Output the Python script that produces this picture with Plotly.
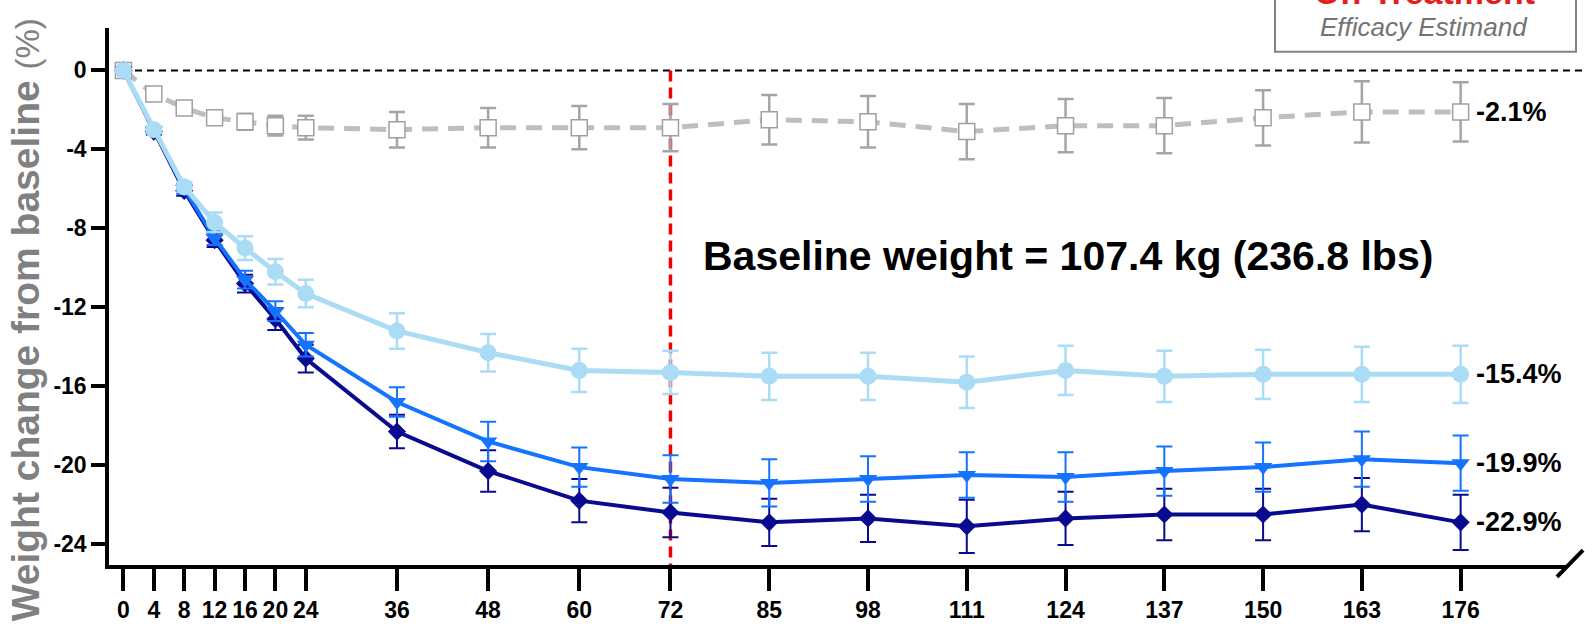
import plotly.graph_objects as go

weeks = [0, 4, 8, 12, 16, 20, 24, 36, 48, 60, 72, 85, 98, 111, 124, 137, 150, 163, 176]
tick_labels = [str(w) for w in weeks]

placebo = [0, -1.2, -1.9, -2.4, -2.6, -2.8, -2.9, -3.0, -2.9, -2.9, -2.9, -2.5, -2.6, -3.1, -2.8, -2.8, -2.4, -2.1, -2.1]
placebo_err = [0, 0.1, 0.15, 0.3, 0.4, 0.5, 0.6, 0.9, 1.0, 1.1, 1.2, 1.25, 1.3, 1.4, 1.35, 1.4, 1.4, 1.55, 1.5]

light = [0, -3.0, -5.9, -7.7, -9.0, -10.2, -11.3, -13.2, -14.3, -15.2, -15.3, -15.5, -15.5, -15.8, -15.2, -15.5, -15.4, -15.4, -15.4]
light_err = [0, 0.15, 0.25, 0.5, 0.6, 0.65, 0.7, 0.9, 0.95, 1.1, 1.1, 1.2, 1.2, 1.3, 1.25, 1.3, 1.25, 1.4, 1.45]

mid = [0, -3.05, -6.0, -8.5, -10.6, -12.2, -13.9, -16.8, -18.8, -20.1, -20.7, -20.9, -20.7, -20.5, -20.6, -20.3, -20.1, -19.7, -19.9]
mid_err = [0, 0.15, 0.25, 0.35, 0.45, 0.5, 0.6, 0.75, 1.0, 1.0, 1.2, 1.2, 1.15, 1.15, 1.25, 1.25, 1.25, 1.4, 1.4]

navy = [0, -3.1, -6.1, -8.6, -10.8, -12.6, -14.6, -18.3, -20.3, -21.8, -22.4, -22.9, -22.7, -23.1, -22.7, -22.5, -22.5, -22.0, -22.9]
navy_err = [0, 0.15, 0.25, 0.35, 0.45, 0.55, 0.7, 0.85, 1.05, 1.1, 1.25, 1.2, 1.2, 1.35, 1.35, 1.3, 1.3, 1.35, 1.4]

end_labels = ["-2.1%", "-15.4%", "-19.9%", "-22.9%"]
end_values = [placebo[-1], light[-1], mid[-1], navy[-1]]

y_ticks = [0, -4, -8, -12, -16, -20, -24]

C_GRAY = "rgb(190,190,190)"
C_GRAY_ERR = "rgb(165,165,165)"
C_LIGHT = "rgb(170,220,245)"
C_MID = "rgb(20,115,255)"
C_NAVY = "rgb(10,10,145)"

FONT = "Liberation Sans, Arial, sans-serif"

W, H, L, T = 1458, 540, 109, 28
def px(xp):
    return (xp - L) / W
def py(yp):
    return (T + H - yp) / H

fig = go.Figure()

# zero reference line
fig.add_shape(type="line", xref="paper", yref="y", x0=px(123), x1=px(1590), y0=0, y1=0,
              line=dict(color="black", width=2, dash="7px,5px"), layer="below")
# week 72 vertical line
fig.add_shape(type="line", xref="x", yref="y", x0=72, x1=72, y0=0, y1=-25.06,
              line=dict(color="rgb(240,0,0)", width=3.5, dash="11px,6px"), layer="below")

fig.add_trace(go.Scatter(
    x=weeks, y=placebo, mode="lines+markers",
    line=dict(color=C_GRAY, width=5, dash="16px,10px"),
    marker=dict(symbol="square", size=16, color="white", line=dict(color="rgb(160,160,160)", width=1.5)),
    error_y=dict(type="data", array=placebo_err, color=C_GRAY_ERR, thickness=2.5, width=8),
))
fig.add_trace(go.Scatter(
    x=weeks, y=navy, mode="lines+markers",
    line=dict(color=C_NAVY, width=4),
    marker=dict(symbol="diamond", size=14, color=C_NAVY),
    error_y=dict(type="data", array=navy_err, color=C_NAVY, thickness=2, width=8),
))
fig.add_trace(go.Scatter(
    x=weeks, y=mid, mode="lines+markers",
    line=dict(color=C_MID, width=4),
    marker=dict(symbol="triangle-down", size=16, color=C_MID),
    error_y=dict(type="data", array=mid_err, color=C_MID, thickness=2, width=8),
))
fig.add_trace(go.Scatter(
    x=weeks, y=light, mode="lines+markers",
    line=dict(color=C_LIGHT, width=5),
    marker=dict(symbol="circle", size=17, color=C_LIGHT),
    error_y=dict(type="data", array=light_err, color=C_LIGHT, thickness=2.5, width=8),
))

# end value labels
for lab, val in zip(end_labels, end_values):
    fig.add_annotation(x=weeks[-1], y=val, xref="x", yref="y", text="<b>" + lab + "</b>",
                       showarrow=False, xanchor="left", yanchor="middle", xshift=13,
                       font=dict(family=FONT, size=27, color="black"))

fig.add_annotation(x=124.3, y=-9.4, xref="x", yref="y",
                   text="<b>Baseline weight = 107.4 kg (236.8 lbs)</b>",
                   showarrow=False, xanchor="center", yanchor="middle",
                   font=dict(family=FONT, size=41, color="black"))

# y-axis title
fig.add_annotation(x=px(25), y=py(322), xref="paper", yref="paper", textangle=-90,
                   text="<b>Weight change from baseline</b> <span style='font-size:33px'>(%)</span>",
                   showarrow=False, xanchor="center", yanchor="middle",
                   font=dict(family=FONT, size=39, color="rgb(128,128,128)"))

# top-right box
fig.add_shape(type="rect", xref="paper", yref="paper",
              x0=px(1275), x1=px(1576), y0=py(52), y1=py(-10),
              line=dict(color="rgb(130,130,130)", width=2), fillcolor="white")
fig.add_annotation(x=px(1424), y=py(27), xref="paper", yref="paper",
                   text="<i>Efficacy Estimand</i>", showarrow=False,
                   xanchor="center", yanchor="middle",
                   font=dict(family=FONT, size=26, color="rgb(115,115,115)"))
fig.add_annotation(x=px(1424), y=py(-8), xref="paper", yref="paper",
                   text="<b>On-Treatment</b>", showarrow=False,
                   xanchor="center", yanchor="middle",
                   font=dict(family=FONT, size=34, color="rgb(230,30,30)"))

# axis break slash
fig.add_shape(type="line", xref="paper", yref="paper",
              x0=px(1557), x1=px(1583), y0=py(580), y1=py(553),
              line=dict(color="black", width=4))

fig.update_layout(
    width=1585, height=635,
    margin=dict(l=L, r=1585 - L - W, t=T, b=635 - T - H),
    plot_bgcolor="white", paper_bgcolor="white",
    showlegend=False,
    font=dict(family=FONT),
)
fig.update_xaxes(
    range=[-1.9, 190], tickmode="array", tickvals=weeks, ticktext=tick_labels,
    showgrid=False, zeroline=False, showline=True, linecolor="black", linewidth=3.5,
    ticks="outside", ticklen=22, tickwidth=3.5, tickcolor="black",
    tickfont=dict(family=FONT, size=23, color="black", weight="bold"),
)
fig.update_yaxes(
    range=[-25.06, 2.15], tickmode="array", tickvals=y_ticks,
    ticktext=[str(v) for v in y_ticks],
    showgrid=False, zeroline=False, showline=True, linecolor="black", linewidth=3.5,
    ticks="outside", ticklen=14, tickwidth=3.5, tickcolor="black",
    tickfont=dict(family=FONT, size=23, color="black", weight="bold"),
)

fig.write_html("out.html")
